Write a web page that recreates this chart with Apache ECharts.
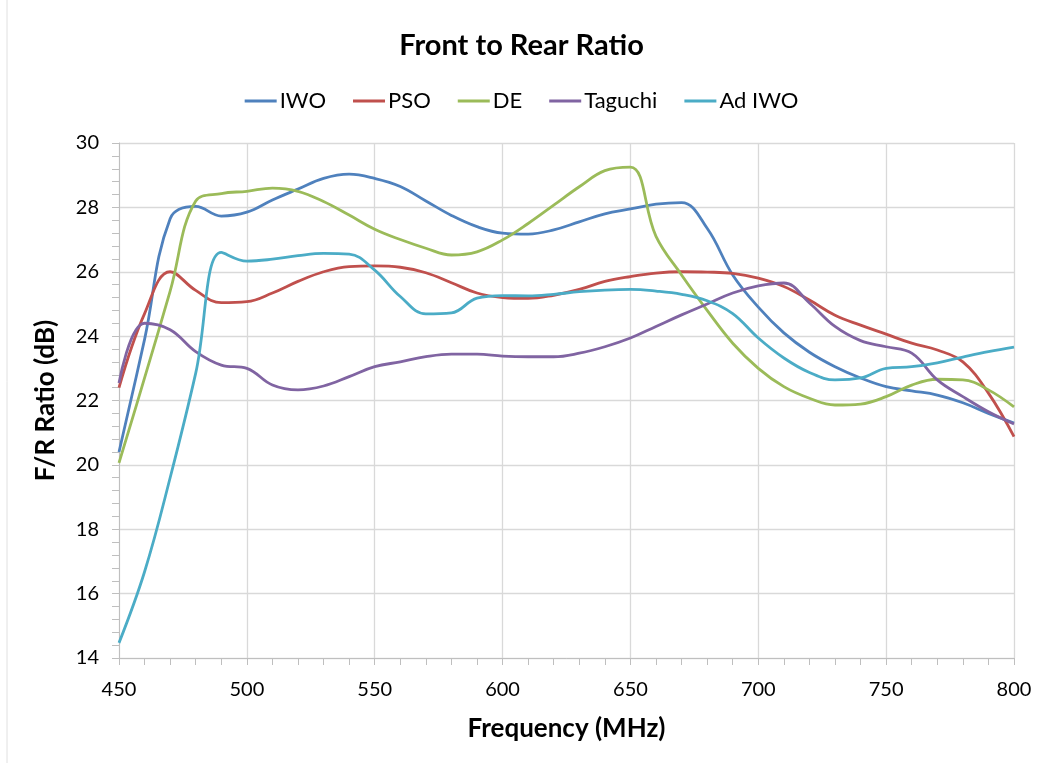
<!DOCTYPE html>
<html><head><meta charset="utf-8">
<script src="https://cdn.jsdelivr.net/npm/echarts@6/dist/echarts.min.js"></script>
<style>html,body{margin:0;padding:0;background:#fff}#c{width:1043px;height:763px}</style>
</head><body><div id="c"></div>
<script>
const freqs = [450,460,470,480,490,500,510,520,530,540,550,560,570,580,590,600,610,620,630,640,650,660,670,680,690,700,710,720,730,740,750,760,770,780,790,800];
const iwo =   [20.4,23.9,27.65,28.03,27.73,27.85,28.23,28.57,28.9,29.03,28.9,28.65,28.2,27.75,27.4,27.2,27.17,27.3,27.55,27.8,27.95,28.1,28.15,27.35,25.9,24.9,24.1,23.5,23.05,22.7,22.43,22.3,22.17,21.93,21.6,21.3];
const pso =   [22.4,24.7,26.0,25.42,25.04,25.07,25.34,25.7,26.0,26.16,26.18,26.14,25.97,25.66,25.34,25.2,25.17,25.27,25.45,25.7,25.85,25.96,26.0,25.99,25.95,25.8,25.54,25.12,24.65,24.34,24.06,23.78,23.57,23.2,22.23,20.88];
const de =    [20.06,22.7,25.4,28.2,28.43,28.5,28.6,28.5,28.18,27.76,27.32,27.0,26.73,26.52,26.62,26.99,27.5,28.07,28.64,29.14,29.25,27.1,25.9,24.8,23.78,23.0,22.43,22.07,21.86,21.89,22.12,22.48,22.66,22.64,22.33,21.8];
const taguchi=[22.54,24.4,24.2,23.52,23.1,23.0,22.48,22.33,22.45,22.74,23.05,23.2,23.36,23.44,23.44,23.38,23.36,23.36,23.47,23.67,23.94,24.3,24.66,25.0,25.34,25.56,25.65,25.03,24.3,23.86,23.67,23.47,22.64,22.12,21.65,21.27];
const adiwo = [14.47,16.68,19.6,22.85,26.6,26.33,26.39,26.5,26.57,26.55,26.05,25.23,24.69,24.72,25.18,25.26,25.25,25.3,25.38,25.43,25.45,25.4,25.3,25.1,24.7,23.94,23.32,22.87,22.64,22.7,23.0,23.05,23.17,23.35,23.52,23.66];
const seriesNames = ['IWO','PSO','DE','Taguchi','Ad IWO'];
const seriesValues = [iwo,pso,de,taguchi,adiwo];
const colors = ['#4F81BD','#C0504D','#9BBB59','#8064A2','#4BACC6'];
const font = 'Lato, "Open Sans", sans-serif';

const chart = echarts.init(document.getElementById('c'));
chart.setOption({
  animation:false,
  color: colors,
  title:{text:'Front to Rear Ratio',left:'center',top:26,textStyle:{fontFamily:font,fontSize:29,fontWeight:'bold',color:'#000'}},
  legend:{top:85,left:'center',itemWidth:32,itemHeight:3,itemGap:27,icon:'rect',textStyle:{fontFamily:font,fontSize:22,color:'#000',padding:[0,0,0,-2]},data:seriesNames},
  graphic:[{type:'line',shape:{x1:7,y1:0,x2:7,y2:763},style:{stroke:'#e0e0e0',lineWidth:1}}],
  grid:{left:119,right:29,top:143,bottom:105,containLabel:false},
  xAxis:{type:'value',min:450,max:800,interval:50,name:'Frequency (MHz)',nameLocation:'middle',nameGap:58,
    nameTextStyle:{fontFamily:font,fontSize:26,fontWeight:'bold',color:'#000'},
    axisLine:{lineStyle:{color:'#bfbfbf'}},axisTick:{length:7,lineStyle:{color:'#bfbfbf'}},
    minorTick:{show:true,splitNumber:5,length:7,lineStyle:{color:'#bfbfbf'}},
    axisLabel:{fontFamily:font,fontSize:20,color:'#000',margin:22},
    splitLine:{show:true,lineStyle:{color:'#d9d9d9',width:1.3}}},
  yAxis:{type:'value',min:14,max:30,interval:2,name:'F/R Ratio (dB)',nameLocation:'middle',nameGap:60,nameRotate:90,
    nameTextStyle:{fontFamily:font,fontSize:26,fontWeight:'bold',color:'#000'},
    axisLine:{show:true,lineStyle:{color:'#bfbfbf'}},axisTick:{show:true,length:7,lineStyle:{color:'#bfbfbf'}},
    minorTick:{show:true,splitNumber:5,length:7,lineStyle:{color:'#bfbfbf'}},
    axisLabel:{fontFamily:font,fontSize:20,color:'#000',margin:20},
    splitLine:{show:true,lineStyle:{color:'#d9d9d9',width:1.3}}},
  series: seriesNames.map((n,i)=>({
    name:n,type:'line',smooth:0.4,symbol:'none',
    lineStyle:{width:2.8,color:colors[i]},
    data: freqs.map((f,j)=>[f,seriesValues[i][j]])
  }))
});
</script></body></html>
